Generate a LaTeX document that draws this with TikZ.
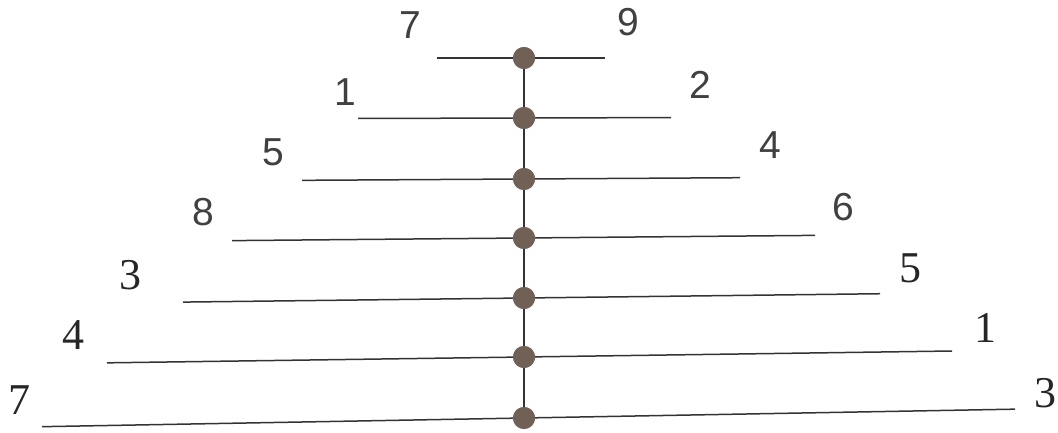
\documentclass[tikz,border=0pt]{standalone}
\usepackage{fontspec}
\newfontfamily\labsans{Liberation Sans}
\newfontfamily\labserif{Liberation Serif}
\definecolor{dotcol}{RGB}{112,96,86}
\begin{document}
\begin{tikzpicture}[x=1pt,y=1pt,
  bar/.style={draw=black!80, line width=1.5pt},
  stem/.style={draw=black!80, line width=1.5pt},
  dot/.style={circle, fill=dotcol, inner sep=0pt, minimum size=22pt},
  labs/.style={font=\labsans\fontsize{39}{44}\selectfont, text=black!75, inner sep=0pt},
  labr/.style={font=\labserif\fontsize{44}{50}\selectfont, text=black!85, inner sep=0pt}]
\useasboundingbox (0,0) rectangle (1058,432);
% rows: dot y (image), left x, right x, slope
\foreach \i/\yy/\lx/\rx/\s in {1/58/437/605/0.0, 2/118/358/671/0.003, 3/179/302/740/0.006, 4/238/232/815/0.009, 5/298/183/880/0.012, 6/357/107/952/0.014, 7/418/42/1015/0.018}{
  \coordinate (l\i) at (\lx, {432-\yy+(\lx-524)*\s});
  \coordinate (r\i) at (\rx, {432-\yy+(\rx-524)*\s});
  \draw[bar] (l\i) -- (r\i);
}
\foreach \i/\yy in {1/58,2/118,3/179,4/238,5/298,6/357,7/418}{
  \node[dot] (d\i) at (524,{432-\yy}) {};
}
\draw[stem] (d1.center) -- (d7.center);
\foreach \i in {1,...,7}{\node[dot] at (d\i) {};}
\node[labs] (a1) at (410,407) {7};
\node[labs] (b1) at (628,410) {9};
\node[labs] (a2) at (345,340) {1};
\node[labs] (b2) at (700,347) {2};
\node[labs] (a3) at (273,280) {5};
\node[labs] (b3) at (770,287) {4};
\node[labs] (a4) at (203,220) {8};
\node[labs] (b4) at (843,225) {6};
\node[labr] (a5) at (130,157) {3};
\node[labr] (b5) at (910,164) {5};
\node[labr] (a6) at (73,97) {4};
\node[labr] (b6) at (985,104) {1};
\node[labr] (a7) at (20,32) {7};
\node[labr] (b7) at (1045,39) {3};
\end{tikzpicture}
\end{document}
